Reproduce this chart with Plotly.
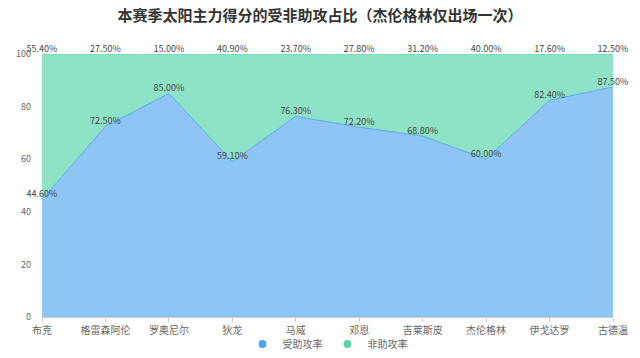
import plotly.graph_objects as go

players = ["布克", "格雷森阿伦", "罗奥尼尔", "狄龙", "马威", "邓恩", "吉莱斯皮", "杰伦格林", "伊戈达罗", "古德温"]
assisted = [44.6, 72.5, 85.0, 59.1, 76.3, 72.2, 68.8, 60.0, 82.4, 87.5]
unassisted = [55.4, 27.5, 15.0, 40.9, 23.7, 27.8, 31.2, 40.0, 17.6, 12.5]
series_names = ["受助攻率", "非助攻率"]

FONT = "Noto Sans CJK SC, Microsoft YaHei, sans-serif"
LINE_COLORS = ["#5AA9EE", "#5FD8AE"]
FILL_COLORS = ["#8DC5F5", "#8EE3C6"]
DOT_COLORS = ["#4DA6F0", "#5DD3A5"]

fig = go.Figure()
for name, vals, lc, fc in zip(series_names, [assisted, unassisted], LINE_COLORS, FILL_COLORS):
    fig.add_trace(go.Scatter(
        x=players, y=vals, name=name, stackgroup="one",
        mode="lines+text", text=[f"{v:.2f}%" for v in vals],
        textposition="top center", textfont=dict(size=9, color="#444", family=FONT),
        line=dict(color=lc, width=1), fillcolor=fc,
        showlegend=False, cliponaxis=False,
    ))
for name, dc in zip(series_names, DOT_COLORS):
    fig.add_trace(go.Scatter(
        x=[None], y=[None], name=name, mode="markers",
        marker=dict(color=dc, size=8, symbol="circle"), showlegend=True,
    ))

fig.update_layout(
    width=640, height=358,
    margin=dict(l=42, r=27, t=54, b=41, autoexpand=False),
    paper_bgcolor="white", plot_bgcolor="white",
    font=dict(family=FONT, color="#666", size=10),
    title=dict(text="<b>本赛季太阳主力得分的受非助攻占比（杰伦格林仅出场一次）</b>",
               x=0.5, xanchor="center", y=0.955, yanchor="middle",
               font=dict(size=15, color="#333", family=FONT)),
    showlegend=True,
    legend=dict(orientation="h", x=0.5, xanchor="center", y=-0.103, yanchor="middle",
                font=dict(size=10, color="#666"), traceorder="normal",
                bgcolor="rgba(0,0,0,0)",
                itemwidth=30, tracegroupgap=0, entrywidth=40),
    xaxis=dict(type="category", range=[0, 9], showgrid=False, showline=True,
               linecolor="#ccc", ticks="outside", ticklen=4, tickcolor="#ccc",
               tickfont=dict(size=10, color="#666")),
    yaxis=dict(range=[0, 100], dtick=20, showgrid=True, gridcolor="#e6e6e6",
               griddash="dash", zeroline=False, showline=False,
               tickfont=dict(size=9, color="#666"), ticklabelstandoff=10),
)

fig.write_html("out.html", config={"displayModeBar": False},
               post_script="document.body.style.margin='0px';")
